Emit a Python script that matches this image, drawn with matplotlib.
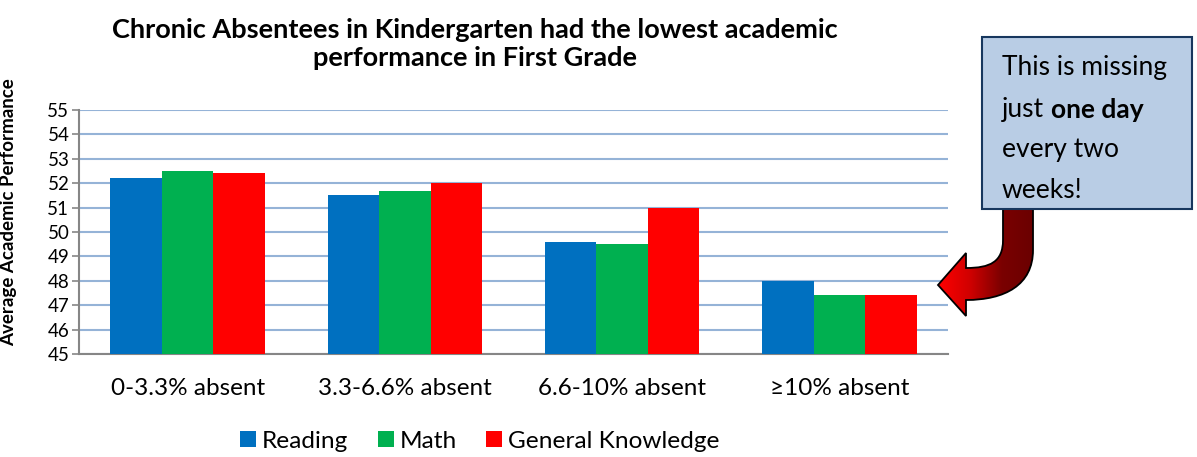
import numpy as np
import matplotlib.pyplot as plt
from matplotlib.path import Path
from matplotlib.patches import PathPatch, Rectangle
from matplotlib.colors import LinearSegmentedColormap

plt.rcParams["font.family"] = ["Lato", "DejaVu Sans"]

categories = ["0-3.3% absent", "3.3-6.6% absent", "6.6-10% absent", "≥10% absent"]
reading = [52.2, 51.5, 49.6, 48.0]
math_scores = [52.5, 51.7, 49.5, 47.4]
general = [52.4, 52.0, 51.0, 47.4]
series = ["Reading", "Math", "General Knowledge"]
colors = ["#0070C0", "#00B050", "#FF0000"]
y_ticks = list(range(45, 56))

W, H = 1197, 457
fig = plt.figure(figsize=(W / 100, H / 100), dpi=100)
ax = fig.add_axes([79 / W, 1 - 354 / H, (948 - 79) / W, (354 - 110) / H])

x = np.arange(len(categories))
bw = 0.237
for i, (vals, name, c) in enumerate(zip([reading, math_scores, general], series, colors)):
    ax.bar(x + (i - 1) * bw, np.array(vals) - 45, bw, bottom=45, color=c,
           label=name, zorder=3)

ax.set_xlim(-0.5, len(categories) - 0.5)
ax.set_ylim(45, 55)
ax.set_yticks(y_ticks)
ax.set_xticks(x)
ax.set_xticklabels(categories, fontsize=17.5)
ax.tick_params(axis="x", length=0, pad=17)
ax.tick_params(axis="y", length=5, width=1.2, color="#868686", labelsize=13.5, pad=2)
ax.grid(axis="y", color="#95B3D7", linewidth=1.5, zorder=0)
for s in ["top", "right"]:
    ax.spines[s].set_visible(False)
for s in ["left", "bottom"]:
    ax.spines[s].set_color("#868686")
    ax.spines[s].set_linewidth(1.5)
ax.set_ylabel("Average Academic Performance", fontsize=13.5, fontweight="bold")
ax.yaxis.set_label_coords(-62 / (948 - 79), 0.58)

fig.text(475 / W, 1 - 44 / H,
         "Chronic Absentees in Kindergarten had the lowest academic\nperformance in First Grade",
         ha="center", va="center", fontsize=19.5, fontweight="bold", linespacing=1.25)

handles, labels = ax.get_legend_handles_labels()
fig.legend(handles, labels, loc="center", bbox_to_anchor=(480 / W, 1 - 441 / H), ncol=3,
           frameon=False, fontsize=17.6, handlelength=0.65, handleheight=0.65,
           handletextpad=0.25, columnspacing=1.2)

# overlay in pixel coordinates for the callout box and curved arrow
ov = fig.add_axes([0, 0, 1, 1], zorder=10)
ov.set_xlim(0, W)
ov.set_ylim(H, 0)
ov.axis("off")
ov.patch.set_alpha(0)

verts = [
    (1003, 207), (1003, 240), (1003, 240),
    (1003, 262), (990, 268), (966, 268),
    (966, 253), (938, 285), (966, 316), (966, 300),
    (1005, 300), (1033, 285), (1033, 250),
    (1033, 207), (1003, 207),
]
codes = [Path.MOVETO, Path.LINETO, Path.LINETO,
         Path.CURVE4, Path.CURVE4, Path.CURVE4,
         Path.LINETO, Path.LINETO, Path.LINETO, Path.LINETO,
         Path.CURVE4, Path.CURVE4, Path.CURVE4,
         Path.LINETO, Path.CLOSEPOLY]
arrow = PathPatch(Path(verts, codes), facecolor="none", edgecolor="black", linewidth=1.3, zorder=4)
ov.add_patch(arrow)
cmap = LinearSegmentedColormap.from_list("arr", ["#FF0000", "#D00000", "#7A0000", "#6A0000"])
grad = np.linspace(0, 1, 256).reshape(1, -1)
im = ov.imshow(grad, cmap=cmap, extent=(938, 1034, 320, 205), aspect="auto", zorder=3)
im.set_clip_path(arrow)
ov.set_xlim(0, W)
ov.set_ylim(H, 0)

ov.add_patch(Rectangle((982, 37), 210, 172, facecolor="#B9CDE5", edgecolor="#17375E",
                       linewidth=1.5, zorder=5))
fs = 19
ov.text(1002, 68, "This is missing", fontsize=fs, va="center", ha="left", zorder=6)
t_just = ov.text(1002, 110, "just", fontsize=fs, va="center", ha="left", zorder=6)
ov.annotate("one day", xy=(1, 0.5), xycoords=t_just, xytext=(5, 0),
            textcoords="offset points", fontsize=fs, fontweight="bold",
            va="center", ha="left", zorder=6)
ov.text(1002, 150, "every two", fontsize=fs, va="center", ha="left", zorder=6)
ov.text(1002, 190, "weeks!", fontsize=fs, va="center", ha="left", zorder=6)

fig.savefig("out.png", dpi=100)
